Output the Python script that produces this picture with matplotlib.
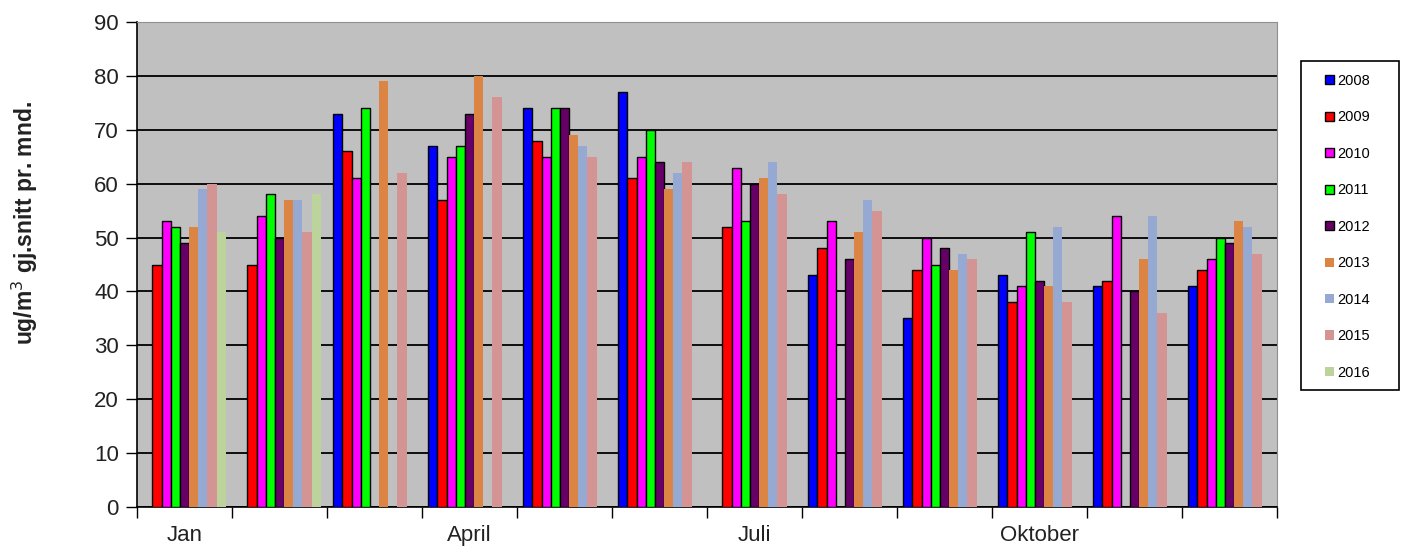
import numpy as np
import matplotlib
matplotlib.use("Agg")
import matplotlib.pyplot as plt
from matplotlib.patches import Rectangle

plt.rcParams['font.family'] = ['Liberation Sans', 'DejaVu Sans']

months = ["Jan", "Feb", "Mar", "Apr", "Mai", "Jun", "Jul", "Aug", "Sep", "Okt", "Nov", "Des"]
tick_labels = ["Jan", "", "", "April", "", "", "Juli", "", "", "Oktober", "", ""]
years = ["2008", "2009", "2010", "2011", "2012", "2013", "2014", "2015", "2016"]
nan = np.nan
v2008 = [nan, nan, 73, 67, 74, 77, nan, 43, 35, 43, 41, 41]
v2009 = [45, 45, 66, 57, 68, 61, 52, 48, 44, 38, 42, 44]
v2010 = [53, 54, 61, 65, 65, 65, 63, 53, 50, 41, 54, 46]
v2011 = [52, 58, 74, 67, 74, 70, 53, nan, 45, 51, nan, 50]
v2012 = [49, 50, nan, 73, 74, 64, 60, 46, 48, 42, 40, 49]
v2013 = [52, 57, 79, 80, 69, 59, 61, 51, 44, 41, 46, 53]
v2014 = [59, 57, nan, nan, 67, 62, 64, 57, 47, 52, 54, 52]
v2015 = [60, 51, 62, 76, 65, 64, 58, 55, 46, 38, 36, 47]
v2016 = [51, 58, nan, nan, nan, nan, nan, nan, nan, nan, nan, nan]
series = [v2008, v2009, v2010, v2011, v2012, v2013, v2014, v2015, v2016]
colors = ["#0000FF", "#FF0000", "#FF00FF", "#00FF00", "#660066",
          "#DC8444", "#95A9D3", "#D49494", "#BCD39B"]
edged = [True, True, True, True, True, False, False, False, False]

fig = plt.figure(figsize=(14.02, 5.49), dpi=100)
ax = fig.add_axes([137/1402, 42/549, 1140/1402, 485/549])
ax.set_facecolor("#C0C0C0")

x = np.arange(len(months))
w = 0.0965
for i, (vals, c, e) in enumerate(zip(series, colors, edged)):
    ax.bar(x - 0.5 + 0.065 + w * (i + 0.5), vals, width=w, color=c,
           edgecolor="black" if e else c, linewidth=1.0 if e else 0,
           label=years[i], zorder=3)

ax.set_xlim(-0.5, len(months) - 0.5)
ax.set_ylim(0, 90)
ax.set_yticks(np.arange(0, 91, 10))
ax.yaxis.grid(True, color="black", linewidth=1.3, zorder=1)
ax.set_axisbelow(True)
ax.tick_params(axis="y", labelsize=16, length=8, width=1, direction="out", pad=5,
               labelcolor="#222222")
ax.set_xticks(x)
ax.set_xticklabels(tick_labels, fontsize=16, color="#222222")
ax.set_xticks(np.arange(-0.5, len(months) + 0.5, 1), minor=True)
ax.tick_params(axis="x", which="major", length=0, pad=13)
ax.tick_params(axis="x", which="minor", length=8, width=1)
for s in ["top", "right"]:
    ax.spines[s].set_color("#909090")
ax.spines["left"].set_linewidth(1.2)
ax.spines["bottom"].set_linewidth(1.2)
fig.text(25/1402, 1 - 223/549, "ug/m$^3$ gj.snitt pr. mnd.", fontsize=16.5,
         fontweight="bold", rotation=90, ha="center", va="center", color="#222222")

# legend box
fig.patches.append(Rectangle((1301/1402, 1 - 390/549), 98/1402, 329/549,
                             transform=fig.transFigure, facecolor="white",
                             edgecolor="black", linewidth=1.2))
leg = fig.legend(loc="upper left", bbox_to_anchor=(1325/1402, 1 - 74/549),
                 fontsize=10.5, frameon=False,
                 handlelength=0.6, handleheight=0.6, handletextpad=0.25,
                 labelspacing=1.54, borderpad=0, borderaxespad=0)

fig.savefig("out.png", dpi=100)
